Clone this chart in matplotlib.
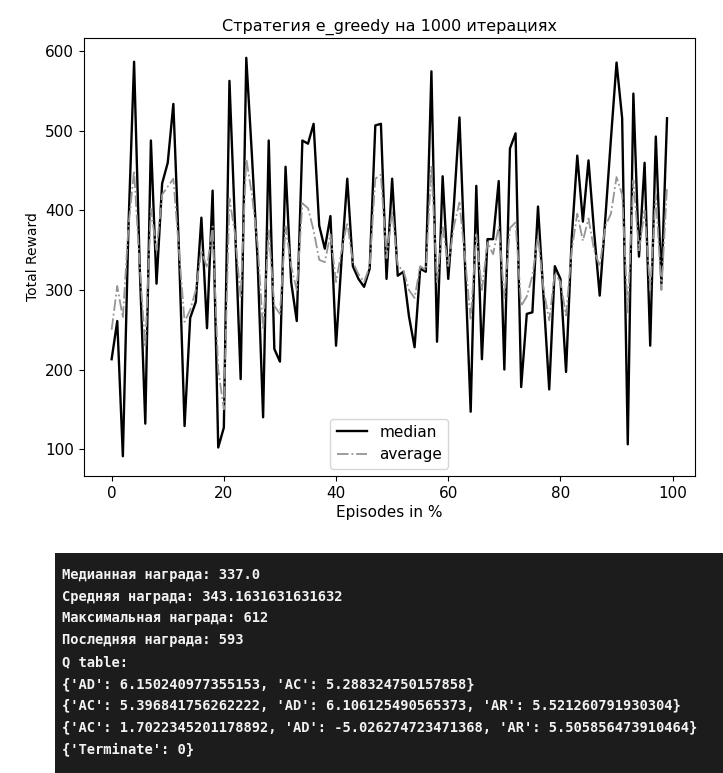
import matplotlib
matplotlib.use("Agg")
import matplotlib.pyplot as plt
import numpy as np

matplotlib.rcParams.update({'font.size': 11})

# total reward per episode bucket (percent of the run)
median_reward = [213, 261, 91, 380, 587, 330, 132, 488, 308, 434,
                 460, 534, 350, 129, 265, 285, 391, 252, 425, 102,
                 127, 563, 380, 188, 592, 470, 340, 140, 488, 226,
                 210, 455, 310, 261, 488, 484, 509, 381, 352, 393,
                 230, 340, 440, 330, 314, 304, 327, 507, 509, 314,
                 440, 318, 323, 267, 228, 327, 323, 575, 235, 443,
                 314, 406, 517, 330, 147, 431, 213, 364, 364, 437,
                 200, 478, 497, 178, 270, 272, 405, 290, 175, 330,
                 314, 197, 364, 469, 386, 463, 373, 293, 390, 490,
                 586, 516, 106, 547, 342, 460, 230, 493, 308, 516]
average_reward = [250, 305, 265, 380, 450, 330, 228, 402, 350, 420,
                  430, 440, 350, 260, 275, 300, 350, 328, 380, 200,
                  150, 415, 370, 290, 465, 420, 360, 250, 375, 280,
                  270, 380, 330, 300, 409, 403, 375, 338, 335, 370,
                  310, 350, 385, 335, 320, 310, 330, 440, 445, 340,
                  400, 330, 325, 300, 290, 330, 325, 455, 310, 380,
                  330, 380, 410, 340, 262, 370, 300, 360, 345, 380,
                  290, 378, 385, 280, 292, 318, 368, 300, 262, 322,
                  310, 268, 350, 396, 362, 390, 350, 330, 380, 396,
                  442, 420, 272, 438, 350, 400, 300, 420, 300, 430]
episodes = np.arange(len(median_reward))

console_lines = [
    "Медианная награда: 337.0",
    "Средняя награда: 343.1631631631632",
    "Максимальная награда: 612",
    "Последняя награда: 593",
    "Q table:",
    "{'AD': 6.150240977355153, 'AC': 5.288324750157858}",
    "{'AC': 5.396841756262222, 'AD': 6.106125490565373, 'AR': 5.521260791930304}",
    "{'AC': 1.7022345201178892, 'AD': -5.026274723471368, 'AR': 5.505856473910464}",
    "{'Terminate': 0}",
]

fig = plt.figure(figsize=(7.23, 7.73), dpi=100)

ax = fig.add_axes([0.116, 0.384, 0.845, 0.567])
ax.plot(episodes, median_reward, color='black', lw=1.7, label='median')
ax.plot(episodes, average_reward, color='#959595', lw=1.3, ls='-.', label='average')
ax.set_title('Стратегия e_greedy на 1000 итерациях', fontsize=11.5, pad=5)
ax.set_xlabel('Episodes in %', labelpad=3)
ax.set_ylabel('Total Reward', fontsize=10)
ax.set_xticks([0, 20, 40, 60, 80, 100])
ax.set_yticks([100, 200, 300, 400, 500, 600])
ax.legend(loc='lower center', fontsize=11)

# console output printed after the run
con = fig.add_axes([0.076, 0.0, 0.924, 0.285])
con.set_facecolor('#1c1c1c')
con.set_xticks([])
con.set_yticks([])
for s in con.spines.values():
    s.set_visible(False)
con.set_xlim(0, 668)
con.set_ylim(220, 0)
for k, line in enumerate(console_lines):
    con.text(7, 22 + 21.8 * k, line, color='#f2f2f2', fontsize=9.95,
             family='DejaVu Sans Mono', weight='bold', va='center', ha='left')

fig.savefig('out.png', dpi=100)
